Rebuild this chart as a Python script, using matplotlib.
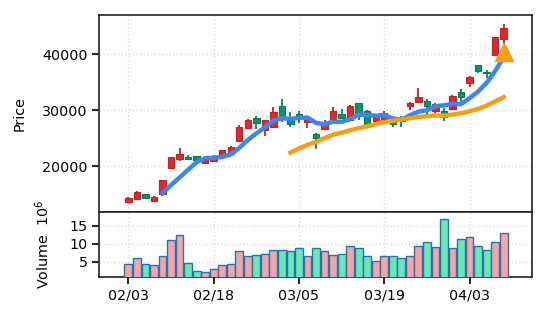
import matplotlib.pyplot as plt
import numpy as np
import pandas as pd

days = np.arange(45)
tick_pos = [0, 10, 20, 30, 40]
tick_labels = ["02/03", "02/18", "03/05", "03/19", "04/03"]

opens = [13600, 14100, 15000, 13870, 15000, 19760, 21250, 21720, 21840, 20650,
         20950, 21720, 22200, 24580, 26900, 28570, 26490, 26960, 30830, 28270,
         29280, 27970, 25720, 26670, 28390, 29340, 28270, 31240, 29880, 28090,
         28090, 28450, 28450, 30830, 31540, 31660, 29880, 29940, 30300, 33330,
         34820, 38090, 36900, 39870, 42670]
closes = [14400, 15350, 14300, 14460, 17500, 21600, 22140, 21250, 21070, 21300,
          21900, 22850, 23500, 26960, 28270, 27800, 28210, 29760, 28980, 27560,
          28860, 28390, 25120, 27670, 29880, 28690, 30770, 29160, 27380, 29160,
          29460, 27560, 28100, 31300, 32430, 30770, 31120, 28870, 32550, 32310,
          36010, 37080, 36600, 43030, 44640]
highs = [14550, 15600, 15050, 14640, 17550, 21650, 23270, 22000, 21900, 21400,
         22000, 23000, 23700, 27380, 28400, 28980, 28300, 30530, 32020, 29640,
         29880, 28500, 26000, 28270, 30590, 30240, 30950, 31300, 30000, 29300,
         29880, 28860, 28980, 31420, 34040, 31950, 31240, 30360, 32700, 33800,
         36100, 38150, 37200, 43100, 45410]
lows = [13500, 14000, 14250, 13800, 14760, 19580, 21000, 21130, 21000, 20550,
        20900, 21650, 22100, 24400, 26730, 26730, 25420, 26900, 27970, 27080,
        27680, 26790, 23160, 26600, 28270, 28390, 28200, 28300, 27300, 27950,
        27970, 26960, 27080, 30060, 31540, 29160, 29460, 28090, 30000, 31540,
        34220, 36600, 35830, 39800, 41900]
volume = [4.3, 6.2, 4.3, 4.0, 6.5, 11.0, 12.3, 4.8, 2.6, 2.2,
          2.9, 4.0, 4.3, 8.1, 6.7, 7.0, 7.3, 8.4, 8.4, 8.1,
          8.7, 6.5, 8.7, 7.9, 7.0, 7.3, 9.3, 8.7, 6.7, 5.3,
          6.7, 6.5, 6.2, 6.5, 9.3, 10.4, 9.0, 17.0, 8.7, 11.2,
          12.0, 9.5, 8.4, 10.4, 13.1]
signal_day = [44]
signal_price = [40400]

o = np.array(opens)
c = np.array(closes)
up = c >= o
ma5 = pd.Series(closes).rolling(5).mean()
ma20 = pd.Series(closes).rolling(20).mean()

plt.rcParams["font.size"] = 10.3

fig = plt.figure(figsize=(5.46, 3.22), dpi=100)
ax = fig.add_axes([0.182, 0.3416, 0.792, 0.6114])
vax = fig.add_axes([0.182, 0.1413, 0.792, 0.2003], sharex=ax)

red, red_edge = "#e0282e", "#c81e24"
green, green_edge = "#0b9468", "#087a55"
body_col = [red if u else green for u in up]
edge_col = [red_edge if u else green_edge for u in up]

# candles: wicks, then bodies, moving averages on top
ax.vlines(days, lows, highs, colors=body_col, linewidth=1.4, zorder=2)
ax.bar(days, np.abs(c - o), bottom=np.minimum(o, c), width=0.75,
       color=body_col, edgecolor=edge_col, linewidth=0.8, zorder=3)
ax.plot(days, ma5, color="#3b86f0", linewidth=3.2, zorder=4)
ax.plot(days, ma20, color="#f5a00f", linewidth=3.2, zorder=4)
ax.plot(signal_day, signal_price, marker="^", color="#f5a00f",
        markersize=13, linestyle="none", zorder=5)

ax.set_ylim(11840, 47020)
ax.set_xlim(-3.4, 47.3)
ax.set_yticks([20000, 30000, 40000])
ax.set_ylabel("Price")
ax.yaxis.set_label_coords(-0.168, 0.5)
ax.tick_params(axis="x", length=0, labelbottom=False)
ax.grid(True, linestyle=":", color="#dcdcdc", linewidth=1)

vol_col = ["#f8a4a4" if u else "#6ee5b5" for u in up]
vax.bar(days, volume, width=0.92, color=vol_col, edgecolor="#1f77b4",
        linewidth=1, zorder=3)
vax.set_ylim(0.95, 18.8)
vax.set_yticks([5, 10, 15])
vax.set_xticks(tick_pos)
vax.set_xticklabels(tick_labels)
vax.set_ylabel("Volume  $10^6$")
vax.yaxis.set_label_coords(-0.109, 0.5)
vax.grid(True, linestyle=":", color="#dcdcdc", linewidth=1)

for a in (ax, vax):
    a.set_axisbelow(True)
    a.tick_params(width=1.2, length=5)
    for s in a.spines.values():
        s.set_linewidth(1.2)
        s.set_color("#222222")
ax.tick_params(axis="x", length=0)

fig.savefig("out.png", dpi=100)
